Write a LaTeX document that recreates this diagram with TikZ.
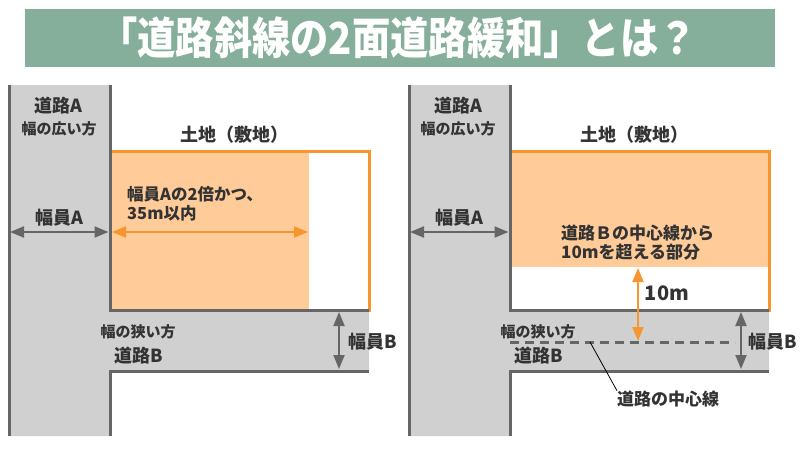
\documentclass[tikz,border=0pt]{standalone}
\usepackage{fontspec}
\setmainfont{Noto Sans CJK JP}
\usetikzlibrary{arrows.meta}
\definecolor{banner}{HTML}{85AF9A}
\definecolor{roadfill}{HTML}{D0D0D0}
\definecolor{roadline}{HTML}{666666}
\definecolor{orline}{HTML}{F7952E}
\definecolor{orfill}{HTML}{FFCB99}
\definecolor{txt}{HTML}{333333}
\tikzset{
  roadedge/.style={draw=roadline, line width=3pt},
  landedge/.style={draw=orline, line width=3pt},
  dimgray/.style={draw=roadline, line width=2pt, {Triangle[length=14pt,width=11pt]}-{Triangle[length=14pt,width=11pt]}, fill=roadline},
  dimorange/.style={draw=orline, line width=2pt, {Triangle[length=14pt,width=11pt]}-{Triangle[length=14pt,width=11pt]}, fill=orline},
  lbl/.style={text=txt, font=\bfseries\fontsize{18}{20}\selectfont, inner sep=0pt},
  lblsmall/.style={text=txt, font=\bfseries\fontsize{15}{17}\selectfont, inner sep=0pt},
  lblmid/.style={text=txt, font=\bfseries\fontsize{16.5}{19}\selectfont, inner sep=0pt, align=left},
}
\begin{document}
\begin{tikzpicture}[x=1pt,y=-1pt]
\useasboundingbox (0,0) rectangle (800,450);
% title banner
\node[fill=banner, minimum width=750pt, minimum height=58pt, inner sep=0pt] (banner) at (400,38) {};
\node[text=white, font=\bfseries\fontsize{44}{46}\selectfont, xscale=0.87, inner sep=0pt] (title) at (398,38) {「道路斜線の2面道路緩和」とは？};

% ===== left panel =====
\fill[roadfill] (9,85) -- (110,85) -- (110,310) -- (369,310) -- (369,371) -- (110,371) -- (110,436) -- (9,436) -- cycle;
\fill[orfill] (110,151) rectangle (309,310);
\draw[landedge] (110,151) -- (369,151) -- (369,311.5);
\draw[roadedge] (9,85) -- (9,436);
\draw[roadedge] (110,85) -- (110,310) -- (369,310);
\draw[roadedge] (110,436) -- (110,371) -- (369,371);
\node[lbl] (roadA1) at (58,106) {道路A};
\node[lblsmall] (wideA1) at (59,129) {幅の広い方};
\node[lbl] (land1) at (234,135) {土地（敷地）};
\node[lbl] (widthA1) at (59,218) {幅員A};
\coordinate (a1l) at (10,232);
\coordinate (a1r) at (108.5,232);
\draw[dimgray] (a1l) -- (a1r);
\node[lblmid, anchor=west] (cond1) at (127,204) {幅員Aの2倍かつ、\\35m以内};
\coordinate (o1l) at (112,232);
\coordinate (o1r) at (308,232);
\draw[dimorange] (o1l) -- (o1r);
\node[lblsmall] (narrow1) at (138,332) {幅の狭い方};
\node[lbl] (roadB1) at (139,356) {道路B};
\node[lbl] (widthB1) at (373,342) {幅員B};
\coordinate (b1t) at (339,312);
\coordinate (b1b) at (339,369);
\draw[dimgray] (b1t) -- (b1b);

% ===== right panel =====
\fill[roadfill] (409,85) -- (510,85) -- (510,310) -- (769,310) -- (769,371) -- (510,371) -- (510,436) -- (409,436) -- cycle;
\fill[orfill] (510,151) rectangle (769,267);
\draw[landedge] (510,151) -- (769,151) -- (769,311.5);
\draw[roadedge] (409,85) -- (409,436);
\draw[roadedge] (510,85) -- (510,310) -- (769,310);
\draw[roadedge] (510,436) -- (510,371) -- (769,371);
\draw[draw=roadline, line width=3pt, dash pattern=on 9pt off 6pt] (510,342) -- (735,342);
\node[lbl] (roadA2) at (458,106) {道路A};
\node[lblsmall] (wideA2) at (458,129) {幅の広い方};
\node[lbl] (land2) at (634,135) {土地（敷地）};
\node[lbl] (widthA2) at (459,218) {幅員A};
\coordinate (a2l) at (410,232);
\coordinate (a2r) at (508.5,232);
\draw[dimgray] (a2l) -- (a2r);
\node[text=txt, font=\bfseries\fontsize{17}{19}\selectfont, inner sep=0pt, align=left, anchor=west] (excess) at (561,243) {道路Ｂの中心線から\\10mを超える部分};
\coordinate (o2t) at (638,268);
\coordinate (o2b) at (638,341);
\draw[dimorange] (o2t) -- (o2b);
\node[text=txt, font=\bfseries\fontsize{20}{22}\selectfont, inner sep=0pt] (ten) at (667,293) {10m};
\node[lblsmall] (narrow2) at (538,332) {幅の狭い方};
\node[lbl] (roadB2) at (539,356) {道路B};
\node[lbl] (widthB2) at (773,342) {幅員B};
\coordinate (b2t) at (741,312);
\coordinate (b2b) at (741,369);
\draw[dimgray] (b2t) -- (b2b);
\node[text=txt, font=\bfseries\fontsize{17}{19}\selectfont, inner sep=0pt, anchor=west] (center) at (617,399) {道路の中心線};
\coordinate (cl) at (590,342);
\draw[black, line width=0.8pt] (cl) -- (center.north west);
\end{tikzpicture}
\end{document}
